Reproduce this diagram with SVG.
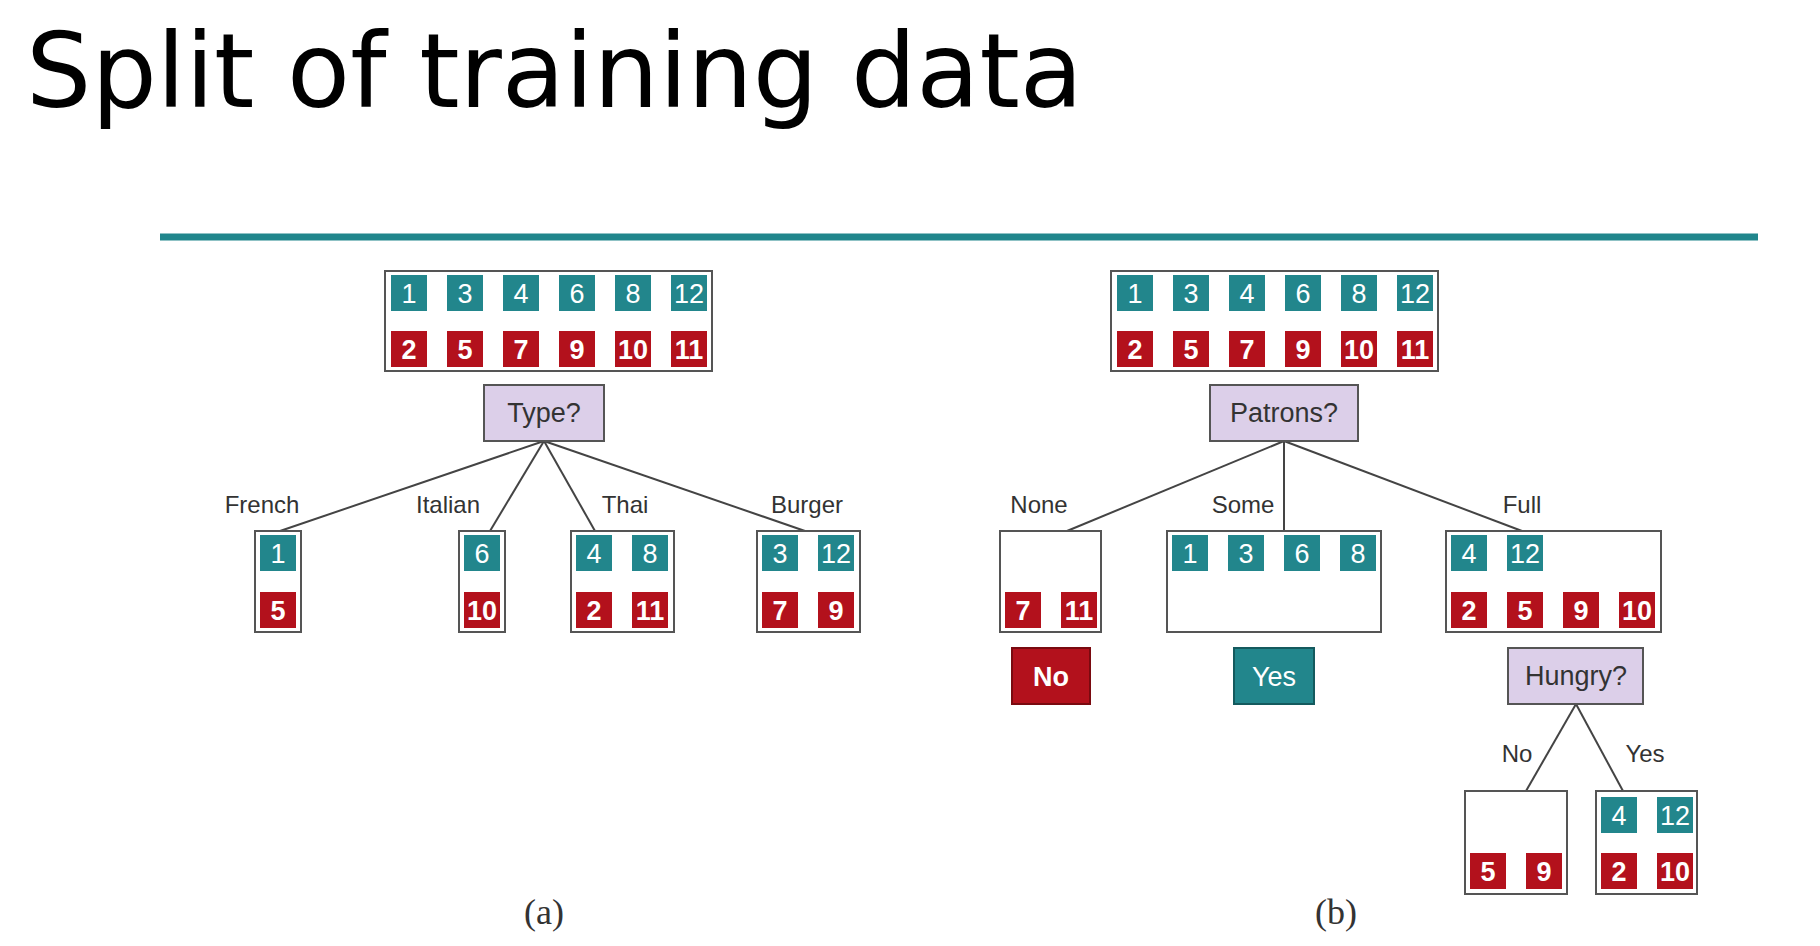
<svg xmlns="http://www.w3.org/2000/svg" width="1820" height="946" viewBox="0 0 1820 946">
<style>
.box{fill:#fff;stroke:#555;stroke-width:2}
.q{fill:#dccfe9;stroke:#555;stroke-width:2}
.t{fill:#22868c}
.r{fill:#b3111c}
.tn{font-family:"Liberation Sans",Arial,sans-serif;font-size:27px;fill:#fff;text-anchor:middle}
.rn{font-family:"Liberation Sans",Arial,sans-serif;font-size:27px;font-weight:bold;fill:#fff;text-anchor:middle}
.lbl{font-family:"Liberation Sans",Arial,sans-serif;font-size:24px;fill:#333;text-anchor:middle}
.ql{font-family:"Liberation Sans",Arial,sans-serif;font-size:27px;fill:#333;text-anchor:middle}
.cap{font-family:"Liberation Serif","Times New Roman",serif;font-size:36px;fill:#333;text-anchor:middle}
.edge{stroke:#444;stroke-width:2;fill:none}
</style>
<rect width="1820" height="946" fill="#fff"/>
<text x="26" y="107" font-family="DejaVu Sans,sans-serif" font-size="103" fill="#000">Split of training data</text>
<line x1="160" y1="237" x2="1758" y2="237" stroke="#20868c" stroke-width="7"/>

<g id="connectors">
<line class="edge" x1="544" y1="441" x2="280" y2="531"/>
<line class="edge" x1="544" y1="441" x2="490" y2="531"/>
<line class="edge" x1="544" y1="441" x2="595" y2="531"/>
<line class="edge" x1="544" y1="441" x2="805" y2="531"/>
<line class="edge" x1="1284" y1="441" x2="1067" y2="531"/>
<line class="edge" x1="1284" y1="441" x2="1284" y2="531"/>
<line class="edge" x1="1284" y1="441" x2="1522" y2="531"/>
<line class="edge" x1="1576" y1="704" x2="1526" y2="791"/>
<line class="edge" x1="1576" y1="704" x2="1623" y2="791"/>
</g>

<g id="labels">
<text class="lbl" x="262" y="513">French</text>
<text class="lbl" x="448" y="513">Italian</text>
<text class="lbl" x="625" y="513">Thai</text>
<text class="lbl" x="807" y="513">Burger</text>
<text class="lbl" x="1039" y="513">None</text>
<text class="lbl" x="1243" y="513">Some</text>
<text class="lbl" x="1522" y="513">Full</text>
<text class="lbl" x="1517" y="762">No</text>
<text class="lbl" x="1645" y="762">Yes</text>
</g>

<g id="a-root">
<rect class="box" x="385" y="271" width="327" height="100"/>
<rect class="t" x="391" y="275" width="36" height="36"/><text class="tn" x="409" y="303">1</text>
<rect class="t" x="447" y="275" width="36" height="36"/><text class="tn" x="465" y="303">3</text>
<rect class="t" x="503" y="275" width="36" height="36"/><text class="tn" x="521" y="303">4</text>
<rect class="t" x="559" y="275" width="36" height="36"/><text class="tn" x="577" y="303">6</text>
<rect class="t" x="615" y="275" width="36" height="36"/><text class="tn" x="633" y="303">8</text>
<rect class="t" x="671" y="275" width="36" height="36"/><text class="tn" x="689" y="303">12</text>
<rect class="r" x="391" y="331" width="36" height="36"/><text class="rn" x="409" y="359">2</text>
<rect class="r" x="447" y="331" width="36" height="36"/><text class="rn" x="465" y="359">5</text>
<rect class="r" x="503" y="331" width="36" height="36"/><text class="rn" x="521" y="359">7</text>
<rect class="r" x="559" y="331" width="36" height="36"/><text class="rn" x="577" y="359">9</text>
<rect class="r" x="615" y="331" width="36" height="36"/><text class="rn" x="633" y="359">10</text>
<rect class="r" x="671" y="331" width="36" height="36"/><text class="rn" x="689" y="359">11</text>
</g>
<g id="a-type"><rect class="q" x="484" y="385" width="120" height="56"/><text class="ql" x="544" y="422">Type?</text></g>
<g id="a-french">
<rect class="box" x="255" y="531" width="46" height="101"/>
<rect class="t" x="260" y="535" width="36" height="36"/><text class="tn" x="278" y="563">1</text>
<rect class="r" x="260" y="592" width="36" height="36"/><text class="rn" x="278" y="620">5</text>
</g>
<g id="a-italian">
<rect class="box" x="459" y="531" width="46" height="101"/>
<rect class="t" x="464" y="535" width="36" height="36"/><text class="tn" x="482" y="563">6</text>
<rect class="r" x="464" y="592" width="36" height="36"/><text class="rn" x="482" y="620">10</text>
</g>
<g id="a-thai">
<rect class="box" x="571" y="531" width="103" height="101"/>
<rect class="t" x="576" y="535" width="36" height="36"/><text class="tn" x="594" y="563">4</text>
<rect class="t" x="632" y="535" width="36" height="36"/><text class="tn" x="650" y="563">8</text>
<rect class="r" x="576" y="592" width="36" height="36"/><text class="rn" x="594" y="620">2</text>
<rect class="r" x="632" y="592" width="36" height="36"/><text class="rn" x="650" y="620">11</text>
</g>
<g id="a-burger">
<rect class="box" x="757" y="531" width="103" height="101"/>
<rect class="t" x="762" y="535" width="36" height="36"/><text class="tn" x="780" y="563">3</text>
<rect class="t" x="818" y="535" width="36" height="36"/><text class="tn" x="836" y="563">12</text>
<rect class="r" x="762" y="592" width="36" height="36"/><text class="rn" x="780" y="620">7</text>
<rect class="r" x="818" y="592" width="36" height="36"/><text class="rn" x="836" y="620">9</text>
</g>
<text class="cap" x="544" y="924">(a)</text>

<g id="b-root">
<rect class="box" x="1111" y="271" width="327" height="100"/>
<rect class="t" x="1117" y="275" width="36" height="36"/><text class="tn" x="1135" y="303">1</text>
<rect class="t" x="1173" y="275" width="36" height="36"/><text class="tn" x="1191" y="303">3</text>
<rect class="t" x="1229" y="275" width="36" height="36"/><text class="tn" x="1247" y="303">4</text>
<rect class="t" x="1285" y="275" width="36" height="36"/><text class="tn" x="1303" y="303">6</text>
<rect class="t" x="1341" y="275" width="36" height="36"/><text class="tn" x="1359" y="303">8</text>
<rect class="t" x="1397" y="275" width="36" height="36"/><text class="tn" x="1415" y="303">12</text>
<rect class="r" x="1117" y="331" width="36" height="36"/><text class="rn" x="1135" y="359">2</text>
<rect class="r" x="1173" y="331" width="36" height="36"/><text class="rn" x="1191" y="359">5</text>
<rect class="r" x="1229" y="331" width="36" height="36"/><text class="rn" x="1247" y="359">7</text>
<rect class="r" x="1285" y="331" width="36" height="36"/><text class="rn" x="1303" y="359">9</text>
<rect class="r" x="1341" y="331" width="36" height="36"/><text class="rn" x="1359" y="359">10</text>
<rect class="r" x="1397" y="331" width="36" height="36"/><text class="rn" x="1415" y="359">11</text>
</g>
<g id="b-patrons"><rect class="q" x="1210" y="385" width="148" height="56"/><text class="ql" x="1284" y="422">Patrons?</text></g>
<g id="b-none">
<rect class="box" x="1000" y="531" width="101" height="101"/>
<rect class="r" x="1005" y="592" width="36" height="36"/><text class="rn" x="1023" y="620">7</text>
<rect class="r" x="1061" y="592" width="36" height="36"/><text class="rn" x="1079" y="620">11</text>
</g>
<g id="b-some">
<rect class="box" x="1167" y="531" width="214" height="101"/>
<rect class="t" x="1172" y="535" width="36" height="36"/><text class="tn" x="1190" y="563">1</text>
<rect class="t" x="1228" y="535" width="36" height="36"/><text class="tn" x="1246" y="563">3</text>
<rect class="t" x="1284" y="535" width="36" height="36"/><text class="tn" x="1302" y="563">6</text>
<rect class="t" x="1340" y="535" width="36" height="36"/><text class="tn" x="1358" y="563">8</text>
</g>
<g id="b-full">
<rect class="box" x="1446" y="531" width="215" height="101"/>
<rect class="t" x="1451" y="535" width="36" height="36"/><text class="tn" x="1469" y="563">4</text>
<rect class="t" x="1507" y="535" width="36" height="36"/><text class="tn" x="1525" y="563">12</text>
<rect class="r" x="1451" y="592" width="36" height="36"/><text class="rn" x="1469" y="620">2</text>
<rect class="r" x="1507" y="592" width="36" height="36"/><text class="rn" x="1525" y="620">5</text>
<rect class="r" x="1563" y="592" width="36" height="36"/><text class="rn" x="1581" y="620">9</text>
<rect class="r" x="1619" y="592" width="36" height="36"/><text class="rn" x="1637" y="620">10</text>
</g>
<g id="b-no"><rect class="r" x="1012" y="648" width="78" height="56" stroke="#7a0a10" stroke-width="2"/><text class="rn" x="1051" y="686">No</text></g>
<g id="b-yes"><rect class="t" x="1234" y="648" width="80" height="56" stroke="#145a5e" stroke-width="2"/><text class="tn" x="1274" y="686">Yes</text></g>
<g id="b-hungry"><rect class="q" x="1508" y="648" width="135" height="56"/><text class="ql" x="1576" y="685">Hungry?</text></g>
<g id="b-hno">
<rect class="box" x="1465" y="791" width="102" height="103"/>
<rect class="r" x="1470" y="853" width="36" height="36"/><text class="rn" x="1488" y="881">5</text>
<rect class="r" x="1526" y="853" width="36" height="36"/><text class="rn" x="1544" y="881">9</text>
</g>
<g id="b-hyes">
<rect class="box" x="1596" y="791" width="101" height="103"/>
<rect class="t" x="1601" y="797" width="36" height="36"/><text class="tn" x="1619" y="825">4</text>
<rect class="t" x="1657" y="797" width="36" height="36"/><text class="tn" x="1675" y="825">12</text>
<rect class="r" x="1601" y="853" width="36" height="36"/><text class="rn" x="1619" y="881">2</text>
<rect class="r" x="1657" y="853" width="36" height="36"/><text class="rn" x="1675" y="881">10</text>
</g>
<text class="cap" x="1336" y="924">(b)</text>
</svg>
